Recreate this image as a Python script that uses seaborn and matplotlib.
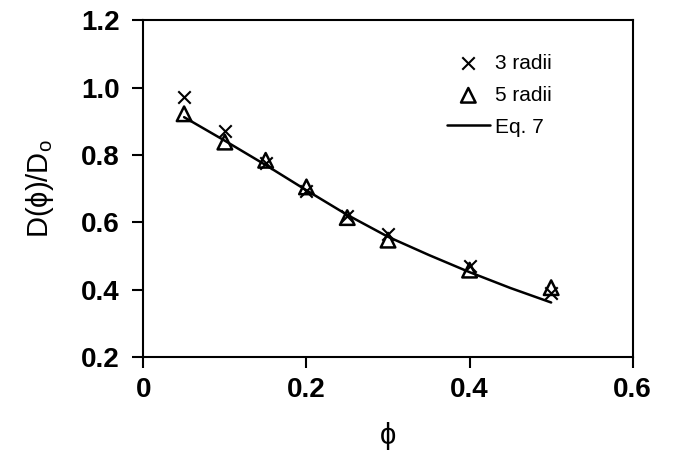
import numpy as np
import pandas as pd
import matplotlib
matplotlib.use("Agg")
import matplotlib.pyplot as plt
import seaborn as sns

# volume fraction
phi = [0.05, 0.1, 0.15, 0.2, 0.25, 0.3, 0.4, 0.5]
# D(phi)/Do for the two simulation sets
radii3 = [0.973, 0.872, 0.775, 0.693, 0.618, 0.565, 0.471, 0.389]
radii5 = [0.922, 0.838, 0.784, 0.705, 0.614, 0.547, 0.458, 0.406]
# Eq. 7 curve
eq_phi = [0.05, 0.1, 0.15, 0.2, 0.25, 0.3, 0.35, 0.4, 0.45, 0.5]
eq_val = [0.912, 0.842, 0.770, 0.695, 0.622, 0.557, 0.503, 0.452, 0.405, 0.362]

df = pd.DataFrame({"phi": phi, "r3": radii3, "r5": radii5})
eq = pd.DataFrame({"phi": eq_phi, "D": eq_val})

sns.set_style("white")
plt.rcParams['font.family'] = ['Liberation Sans', 'DejaVu Sans']
plt.rcParams['text.color'] = 'black'
plt.rcParams['axes.labelcolor'] = 'black'

fig = plt.figure(figsize=(6.76, 4.68), dpi=100)
ax = fig.add_axes([0.212, 0.237, 0.724, 0.72])

sns.scatterplot(data=df, x="phi", y="r3", marker="x", color="black", s=80,
                linewidth=1.5, label="3 radii", ax=ax, zorder=3)
sns.scatterplot(data=df, x="phi", y="r5", marker="^", facecolors="none",
                edgecolor="black", s=110, linewidth=1.8, label="5 radii", ax=ax, zorder=3)
sns.lineplot(data=eq, x="phi", y="D", color="black", linewidth=1.8,
             label="Eq. 7", ax=ax, zorder=2)

ax.set_xlim(0, 0.6)
ax.set_ylim(0.2, 1.2)
ax.set_xticks([0, 0.2, 0.4, 0.6])
ax.set_xticklabels(["0", "0.2", "0.4", "0.6"])
ax.set_yticks([0.2, 0.4, 0.6, 0.8, 1.0, 1.2])
ax.set_yticklabels(["0.2", "0.4", "0.6", "0.8", "1.0", "1.2"])

for s in ax.spines.values():
    s.set_visible(True)
    s.set_color("black")
    s.set_linewidth(1.5)

ax.tick_params(axis="both", which="major", bottom=True, left=True, top=False, right=False,
               direction="out", length=8, width=1.5, colors="black", labelsize=20)
ax.tick_params(axis="x", pad=6)
ax.tick_params(axis="y", pad=9)
for lab in ax.get_xticklabels() + ax.get_yticklabels():
    lab.set_fontweight("bold")

ax.set_xlabel("ϕ", fontsize=21, labelpad=14, color="black")
ax.set_ylabel("D(ϕ)/D$_\\mathregular{o}$", fontsize=21, labelpad=18, color="black")

leg = ax.legend(loc="upper left", bbox_to_anchor=(0.62, 0.9), frameon=False,
                borderpad=0, borderaxespad=0, fontsize=15, handlelength=2.07,
                handletextpad=0.25, labelspacing=0.62)

fig.savefig("out.png", dpi=100)
